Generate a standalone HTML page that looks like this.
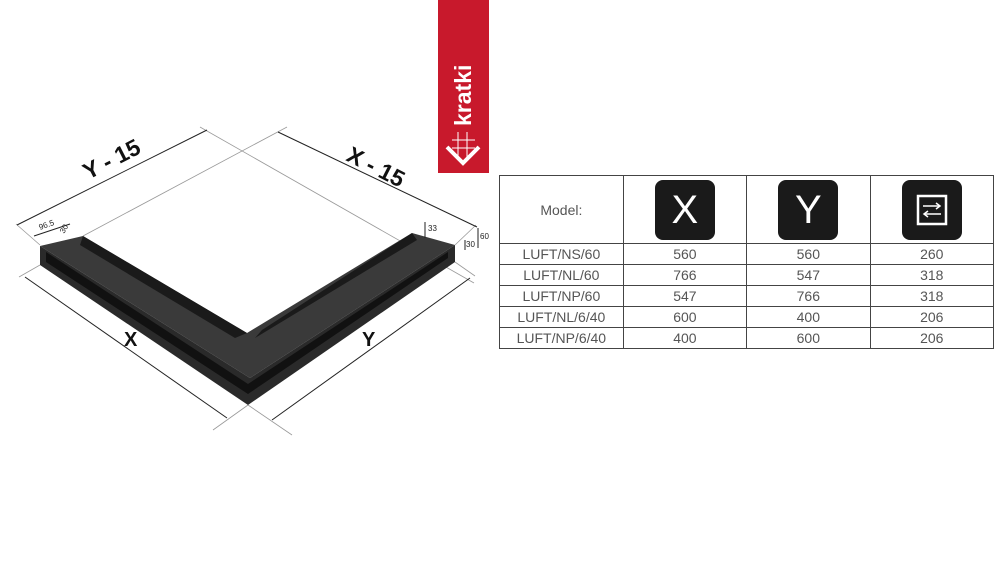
<!DOCTYPE html>
<html><head><meta charset="utf-8"><style>
body{margin:0;background:#fff;width:1000px;height:562px;overflow:hidden;position:relative;font-family:"Liberation Sans",sans-serif}
table{position:absolute;left:499px;top:175px;border-collapse:collapse;width:495px}
td{border:1px solid #444;text-align:center;font-size:14px;color:#555;height:20px;padding:0;line-height:20px;width:123px}
.h td{height:67px}
.ic{display:inline-block;width:60px;height:60px;background:#1a1a1a;border-radius:8px;color:#fff;font-size:40px;line-height:60px;vertical-align:middle}
</style></head><body>
<div style="position:absolute;left:438px;top:0;width:51px;height:173px;background:#c8192c"></div>
<svg width="1000" height="562" style="position:absolute;left:0;top:0">
<g fill="none" stroke="#fff" stroke-width="4"><path d="M447 147 L463 163 L479 147"/></g>
<g stroke="#fff" stroke-width="1"><line x1="452" y1="140" x2="475" y2="140"/><line x1="452" y1="148" x2="475" y2="148"/><line x1="458" y1="132" x2="458" y2="158"/><line x1="467" y1="132" x2="467" y2="158"/></g>
<text transform="translate(471,126) rotate(-90)" fill="#fff" font-weight="bold" font-size="23">kratki</text>
<g stroke="#999" stroke-width="0.8">
<line x1="200" y1="127" x2="474" y2="283"/>
<line x1="287" y1="127" x2="83" y2="236"/>
<line x1="16" y1="224" x2="40" y2="245"/>
<line x1="476" y1="225" x2="455" y2="245"/>
<line x1="19" y1="277" x2="40" y2="265"/>
<line x1="455" y1="262" x2="475" y2="276"/>
<line x1="248" y1="405" x2="213" y2="430"/>
<line x1="248" y1="405" x2="292" y2="435"/>
</g>
<polygon points="40,246 83,236 247,333 412,233 455,245 250,378" fill="#3a3a3a"/>
<polygon points="40,246 250,378 455,245 455,262 248,405 40,265" fill="#2a2a2a"/>
<polygon points="46,252 248,384 448,252 448,258 248,394 46,262" fill="#111"/>
<polygon points="83,236 247,333 235,338 80,245" fill="#1a1a1a"/>
<polygon points="412,233 262,330 255,338 417,240" fill="#1a1a1a"/>
<g stroke="#222" stroke-width="1" fill="none">
<line x1="17" y1="225" x2="207" y2="130"/>
<line x1="278" y1="132" x2="477" y2="227"/>
<line x1="25" y1="277" x2="227" y2="418"/>
<line x1="272" y1="420" x2="470" y2="278"/>
<line x1="34" y1="236" x2="70" y2="224"/>
<line x1="425" y1="222" x2="425" y2="238"/>
<line x1="478" y1="228" x2="478" y2="248"/>
<line x1="465" y1="240" x2="465" y2="250"/>
</g>
<g font-weight="bold" fill="#111" font-size="23">
<text transform="translate(88,180) rotate(-27)">Y - 15</text>
<text transform="translate(345,160) rotate(27)">X - 15</text>
</g>
<g font-weight="bold" fill="#111" font-size="20">
<text x="124" y="346">X</text>
<text x="362" y="346">Y</text>
</g>
<g fill="#222" font-size="8">
<text transform="translate(40,230) rotate(-20)">96.5</text>
<text transform="translate(64,234) rotate(-60)">30</text>
<text x="428" y="231">33</text>
<text x="480" y="239">60</text>
<text x="466" y="247">30</text>
</g>
</svg>
<table>
<tr class="h"><td>Model:</td><td><span class="ic">X</span></td><td><span class="ic">Y</span></td><td><span class="ic"><svg width="60" height="60"><rect x="16" y="16" width="28" height="28" fill="none" stroke="#fff" stroke-width="2.5"/><g stroke="#fff" stroke-width="1.5"><line x1="21" y1="26" x2="37" y2="26"/><path d="M34 23 L38 26 L34 29" fill="none"/><line x1="23" y1="34" x2="39" y2="34"/><path d="M26 31 L22 34 L26 37" fill="none"/></g></svg></span></td></tr>
<tr><td>LUFT/NS/60</td><td>560</td><td>560</td><td>260</td></tr>
<tr><td>LUFT/NL/60</td><td>766</td><td>547</td><td>318</td></tr>
<tr><td>LUFT/NP/60</td><td>547</td><td>766</td><td>318</td></tr>
<tr><td>LUFT/NL/6/40</td><td>600</td><td>400</td><td>206</td></tr>
<tr><td>LUFT/NP/6/40</td><td>400</td><td>600</td><td>206</td></tr>
</table>
</body></html>
